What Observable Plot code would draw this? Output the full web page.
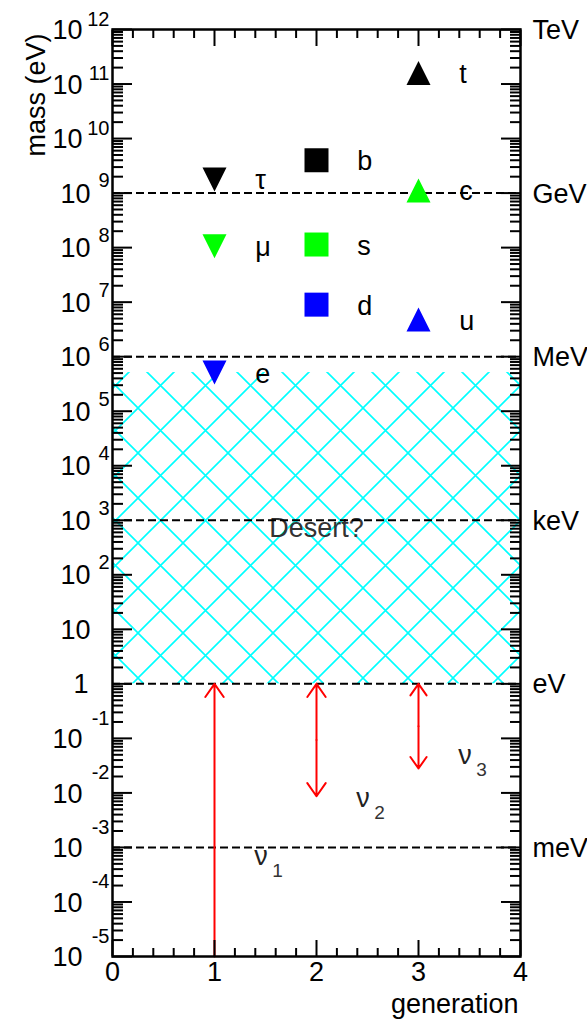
<!DOCTYPE html>
<html>
<head>
<meta charset="utf-8">
<script src="https://cdn.jsdelivr.net/npm/d3@7"></script>
<script src="https://cdn.jsdelivr.net/npm/@observablehq/plot@0.6"></script>
<style>
  html, body { margin: 0; padding: 0; background: #fff; }
  svg { display: block; }
</style>
</head>
<body>
<div id="chart"></div>
<script>
// ---------- data ----------
const generationTicks = [0, 1, 2, 3, 4];
const yExponents = [-5, -4, -3, -2, -1, 0, 1, 2, 3, 4, 5, 6, 7, 8, 9, 10, 11, 12];
const familyColors = ["#000000", "#00ff00", "#0000ff"];

const leptonNames = ["τ", "μ", "e"];
const leptonMasses = [1.777e9, 1.057e8, 5.11e5];
const leptonGeneration = 1;

const downNames = ["b", "s", "d"];
const downMasses = [4.0e9, 1.14e8, 9.0e6];
const downGeneration = 2;

const upNames = ["t", "c", "u"];
const upMasses = [1.6e11, 1.12e9, 4.8e6];
const upGeneration = 3;

const nuGenerations = [1, 2, 3];
const nuIndex = ["1", "2", "3"];
const nuLow = [1e-5, 0.0087, 0.028];
const nuHigh = [1, 1, 1];
const nuLowHead = [false, true, true];
const nuLabelMass = [7.4e-4, 8.5e-3, 0.052];

const unitNames = ["TeV", "GeV", "MeV", "keV", "eV", "meV"];
const unitMasses = [1e12, 1e9, 1e6, 1e3, 1, 1e-3];
const dashedMasses = [1e9, 1e6, 1e3, 1, 1e-3];

const desertLow = 1;
const desertHigh = 5.11e5;
const desertText = "Desert?";
const desertGeneration = 2;
const desertMass = 700;

// ---------- derived tables ----------
const mk = (names, masses, gen) => names.map((n, i) => ({gen, mass: masses[i], name: n, color: familyColors[i]}));
const leptons = mk(leptonNames, leptonMasses, leptonGeneration);
const downs = mk(downNames, downMasses, downGeneration);
const ups = mk(upNames, upMasses, upGeneration);
const allMarkers = [...leptons, ...downs, ...ups];

const neutrinos = nuGenerations.map((g, i) => ({
  gen: g, low: nuLow[i], high: nuHigh[i], both: nuLowHead[i],
  mid: nuLowHead[i] ? Math.sqrt(nuLow[i] * nuHigh[i]) : nuLow[i],
  label: nuLabelMass[i], idx: nuIndex[i]
}));

const yMajor = yExponents.map(e => 10 ** e);
const yMinor = yExponents.slice(0, -1).flatMap(e => [2,3,4,5,6,7,8,9].map(k => k * 10 ** e));
const xMinor = d3.range(1, 20).map(i => i / 5).filter(v => !Number.isInteger(v));

const units = unitNames.map((n, i) => ({name: n, mass: unitMasses[i]}));

// custom marker shapes (centred on bounding box)
const triDown = {draw(c, s) { const r = Math.sqrt(s / Math.PI); c.moveTo(-r, -r); c.lineTo(r, -r); c.lineTo(0, r); c.closePath(); }};
const triUp = {draw(c, s) { const r = Math.sqrt(s / Math.PI); c.moveTo(-r, r); c.lineTo(r, r); c.lineTo(0, -r); c.closePath(); }};
const squareSym = {draw(c, s) { const r = Math.sqrt(s / Math.PI); c.rect(-r, -r, 2 * r, 2 * r); }};

const FS = 27;
const labelOffset = 0.4;

const expLong = yExponents.filter(e => e >= 10);
const expShort = yExponents.filter(e => e >= 2 && e <= 9);
const expNeg = yExponents.filter(e => e < 0);

const chart = Plot.plot({
  width: 587,
  height: 1026,
  marginLeft: 112,
  marginRight: 67,
  marginTop: 29,
  marginBottom: 70,
  style: {background: "white", fontFamily: "'Liberation Sans', Arial, sans-serif", color: "black"},
  x: {domain: [generationTicks[0], generationTicks[generationTicks.length - 1]]},
  y: {type: "log", domain: [yMajor[0], yMajor[yMajor.length - 1]]},
  color: {type: "identity"},
  marks: [
    // desert hatch
    Plot.rect([{x1: generationTicks[0], x2: generationTicks[generationTicks.length - 1], y1: desertLow, y2: desertHigh}],
      {x1: "x1", x2: "x2", y1: "y1", y2: "y2", fill: "url(#hatch)"}),
    Plot.text([desertText], {x: desertGeneration, y: desertMass, text: d => d, fontSize: FS, fill: "#333", letterSpacing: 1}),
    // dashed unit lines
    Plot.ruleY(dashedMasses, {stroke: "black", strokeWidth: 2, strokeDasharray: "8,4"}),
    // neutrino arrows
    Plot.arrow(neutrinos, {x1: "gen", x2: "gen", y1: "mid", y2: "high", stroke: "#ff0000", strokeWidth: 2, headLength: 12, headAngle: 70}),
    Plot.arrow(neutrinos.filter(d => d.both), {x1: "gen", x2: "gen", y1: "mid", y2: "low", stroke: "#ff0000", strokeWidth: 2, headLength: 12, headAngle: 70}),
    Plot.text(neutrinos, {x: d => d.gen + 0.39, y: "label", text: () => "ν", textAnchor: "start", lineAnchor: "bottom", dy: 10, fontSize: FS, fill: "#222"}),
    Plot.text(neutrinos, {x: d => d.gen + 0.39, y: "label", text: "idx", textAnchor: "start", lineAnchor: "bottom", dx: 18, dy: 22, fontSize: 19, fill: "#333"}),
    // markers
    Plot.dot(leptons, {x: "gen", y: "mass", fill: "color", symbol: triDown, r: 12}),
    Plot.dot(downs, {x: "gen", y: "mass", fill: "color", symbol: squareSym, r: 12}),
    Plot.dot(ups, {x: "gen", y: "mass", fill: "color", symbol: triUp, r: 12}),
    Plot.text(allMarkers, {x: d => d.gen + labelOffset, y: "mass", text: "name", textAnchor: "start", lineAnchor: "bottom", dy: 10, fontSize: FS}),
    // left tick labels
    Plot.text(expLong, {y: e => 10 ** e, text: () => "10", frameAnchor: "left", textAnchor: "end", dx: -30, dy: 1, fontSize: FS}),
    Plot.text(expLong, {y: e => 10 ** e, text: e => String(e), frameAnchor: "left", textAnchor: "end", dx: -3, dy: -10, fontSize: 20}),
    Plot.text(expShort, {y: e => 10 ** e, text: () => "10", frameAnchor: "left", textAnchor: "end", dx: -22, dy: 1, fontSize: FS}),
    Plot.text(expShort, {y: e => 10 ** e, text: e => String(e), frameAnchor: "left", textAnchor: "end", dx: -3, dy: -12, fontSize: 20}),
    Plot.text(expNeg, {y: e => 10 ** e, text: () => "10", frameAnchor: "left", textAnchor: "end", dx: -30, dy: 1, fontSize: FS}),
    Plot.text(expNeg, {y: e => 10 ** e, text: e => "-" + String(-e), frameAnchor: "left", textAnchor: "end", dx: -3, dy: -20, fontSize: 20}),
    Plot.text([1], {y: e => 10 ** e, text: () => "10", frameAnchor: "left", textAnchor: "end", dx: -22, dy: 1, fontSize: FS}),
    Plot.text([0], {y: e => 10 ** e, text: () => "1", frameAnchor: "left", textAnchor: "end", dx: -24, dy: 1, fontSize: FS}),
    // right unit labels
    Plot.text(units, {y: "mass", text: "name", frameAnchor: "right", textAnchor: "start", dx: 12, dy: 1, fontSize: FS}),
    // x tick labels and axis titles
    Plot.text(generationTicks, {x: d => d, text: d => String(d), frameAnchor: "bottom", dy: 24, fontSize: FS}),
    Plot.text(["generation"], {text: d => d, frameAnchor: "bottom-right", textAnchor: "end", dx: -2, dy: 56, fontSize: FS}),
    Plot.text(["mass (eV)"], {text: d => d, frameAnchor: "top-left", rotate: -90, textAnchor: "end", dx: -87, dy: 4, fontSize: FS}),
    // inward ticks
    Plot.axisY({ticks: yMajor, anchor: "left", tickSize: 20, dx: 20, tickFormat: () => "", label: null, strokeWidth: 2}),
    Plot.axisY({ticks: yMinor, anchor: "left", tickSize: 11, dx: 11, tickFormat: () => "", label: null, strokeWidth: 2}),
    Plot.axisY({ticks: yMajor, anchor: "right", tickSize: 20, dx: -20, tickFormat: () => "", label: null, strokeWidth: 2}),
    Plot.axisY({ticks: yMinor, anchor: "right", tickSize: 11, dx: -11, tickFormat: () => "", label: null, strokeWidth: 2}),
    Plot.axisX({ticks: generationTicks, anchor: "bottom", tickSize: 16, dy: -16, tickFormat: () => "", label: null, strokeWidth: 2}),
    Plot.axisX({ticks: xMinor, anchor: "bottom", tickSize: 8, dy: -8, tickFormat: () => "", label: null, strokeWidth: 2}),
    Plot.axisX({ticks: generationTicks, anchor: "top", tickSize: 16, dy: 16, tickFormat: () => "", label: null, strokeWidth: 2}),
    Plot.axisX({ticks: xMinor, anchor: "top", tickSize: 8, dy: 8, tickFormat: () => "", label: null, strokeWidth: 2}),
    Plot.frame({stroke: "black", strokeWidth: 2.5})
  ]
});

// hatch pattern definition
const svg = d3.select(chart);
const defs = svg.insert("defs", ":first-child");
const pat = defs.append("pattern")
  .attr("id", "hatch")
  .attr("patternUnits", "userSpaceOnUse")
  .attr("x", 3).attr("y", 3)
  .attr("width", 45).attr("height", 45);
pat.append("path")
  .attr("d", "M0,0L45,45M45,0L0,45M-5,-5L0,0M45,45L50,50M50,-5L45,0M0,45L-5,50")
  .attr("stroke", "#00ffff")
  .attr("stroke-width", 1.6)
  .attr("fill", "none");

document.getElementById("chart").appendChild(chart);
</script>
</body>
</html>
